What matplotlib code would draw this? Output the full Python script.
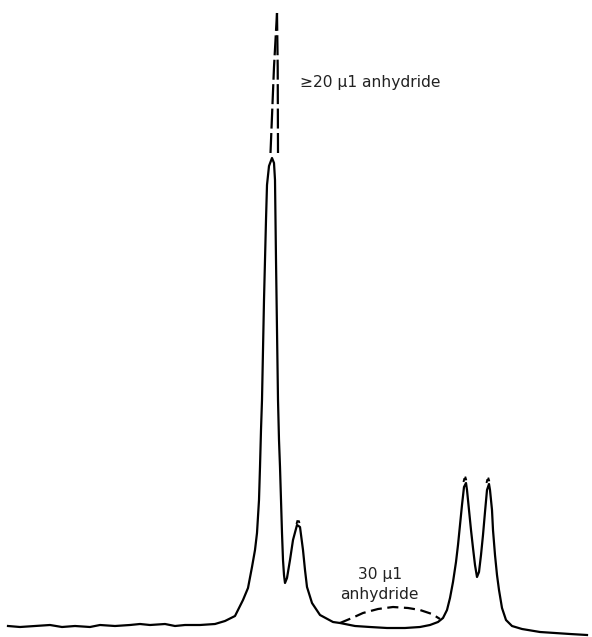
import matplotlib
matplotlib.use("Agg")
import matplotlib.pyplot as plt

# Trace: x = retention position, y = detector signal (arbitrary units)
solid_x = [8, 20, 35, 50, 62, 75, 90, 100, 115, 130, 140, 150, 165, 175, 185, 200, 215,
           225, 235, 243, 248, 252, 255, 257, 259, 260, 261, 262, 263, 264, 265, 266, 267,
           269, 272, 274, 275, 275.5, 276, 277, 278, 279, 280, 281, 282, 283, 284, 285,
           287, 290, 293, 297, 300, 303, 305, 307, 312, 320, 333, 340, 355, 370, 387, 405,
           420, 430, 438, 443, 447, 450, 453, 456, 458, 460, 462, 464, 466, 467, 469, 471,
           473, 475, 477, 479, 481, 483, 485, 487, 489, 490, 492, 493, 495, 497, 499, 502,
           506, 512, 522, 540, 555, 570, 587]
solid_y = [11, 10, 11, 12, 10, 11, 10, 12, 11, 12, 13, 12, 13, 11, 12, 12, 13,
           16, 21, 37, 49, 70, 87, 104, 137, 170, 207, 237, 287, 337, 377, 417, 452,
           471, 479, 474, 457, 417, 377, 307, 237, 197, 170, 137, 104, 77, 62, 54,
           59, 77, 97, 112, 110, 87, 67, 50, 34, 22, 15, 14, 11, 10, 9, 9,
           10, 12, 15, 19, 27, 39, 55, 75, 92, 112, 132, 150, 154, 147, 127, 107,
           89, 72, 60, 65, 82, 102, 125, 147, 153, 147, 127, 107, 82, 62, 47, 29,
           17, 11, 8, 5, 4, 3, 2]

# Dashed trace: main peak with 20 ul anhydride (off scale), small peak tops
dash_left_x = [270.5, 274, 277]
dash_left_y = [484, 570, 624]
dash_right_x = [278, 277.7, 277]
dash_right_y = [484, 570, 624]
tip_x = [[296.5, 298, 299.5], [463.5, 465, 466.5], [486.5, 488, 489.5]]
tip_y = [[113, 118, 114], [155, 161, 156], [154, 160, 155]]

# Dashed hump: 30 ul anhydride
hump_x = [340, 352, 363, 378, 393, 408, 420, 432, 440]
hump_y = [14, 19, 24, 28, 30, 29, 27, 23, 18]

fig = plt.figure(figsize=(5.92, 6.37), dpi=100)
ax = fig.add_axes([0, 0, 1, 1])

ax.plot(solid_x, solid_y, color="black", lw=1.6, solid_joinstyle="round")
ax.plot(dash_left_x, dash_left_y, color="black", lw=1.6, dashes=(9, 2))
ax.plot(dash_right_x, dash_right_y, color="black", lw=1.6, dashes=(9, 2))
for tx, ty in zip(tip_x, tip_y):
    ax.plot(tx, ty, color="black", lw=1.4, dashes=(2, 1.5))
ax.plot(hump_x, hump_y, color="black", lw=1.6, dashes=(5, 2.5))

ax.text(370.5, 555, "≥20 µ1 anhydride", ha="center", va="center",
        fontsize=11.2, color="#222222")
ax.text(380, 63, "30 µ1", ha="center", va="center", fontsize=11.2, color="#222222")
ax.text(379, 42, "anhydride", ha="center", va="center", fontsize=11.2, color="#222222")

ax.set_xlim(0, 592)
ax.set_ylim(0, 637)
ax.axis("off")

fig.savefig("out.png", dpi=100)
